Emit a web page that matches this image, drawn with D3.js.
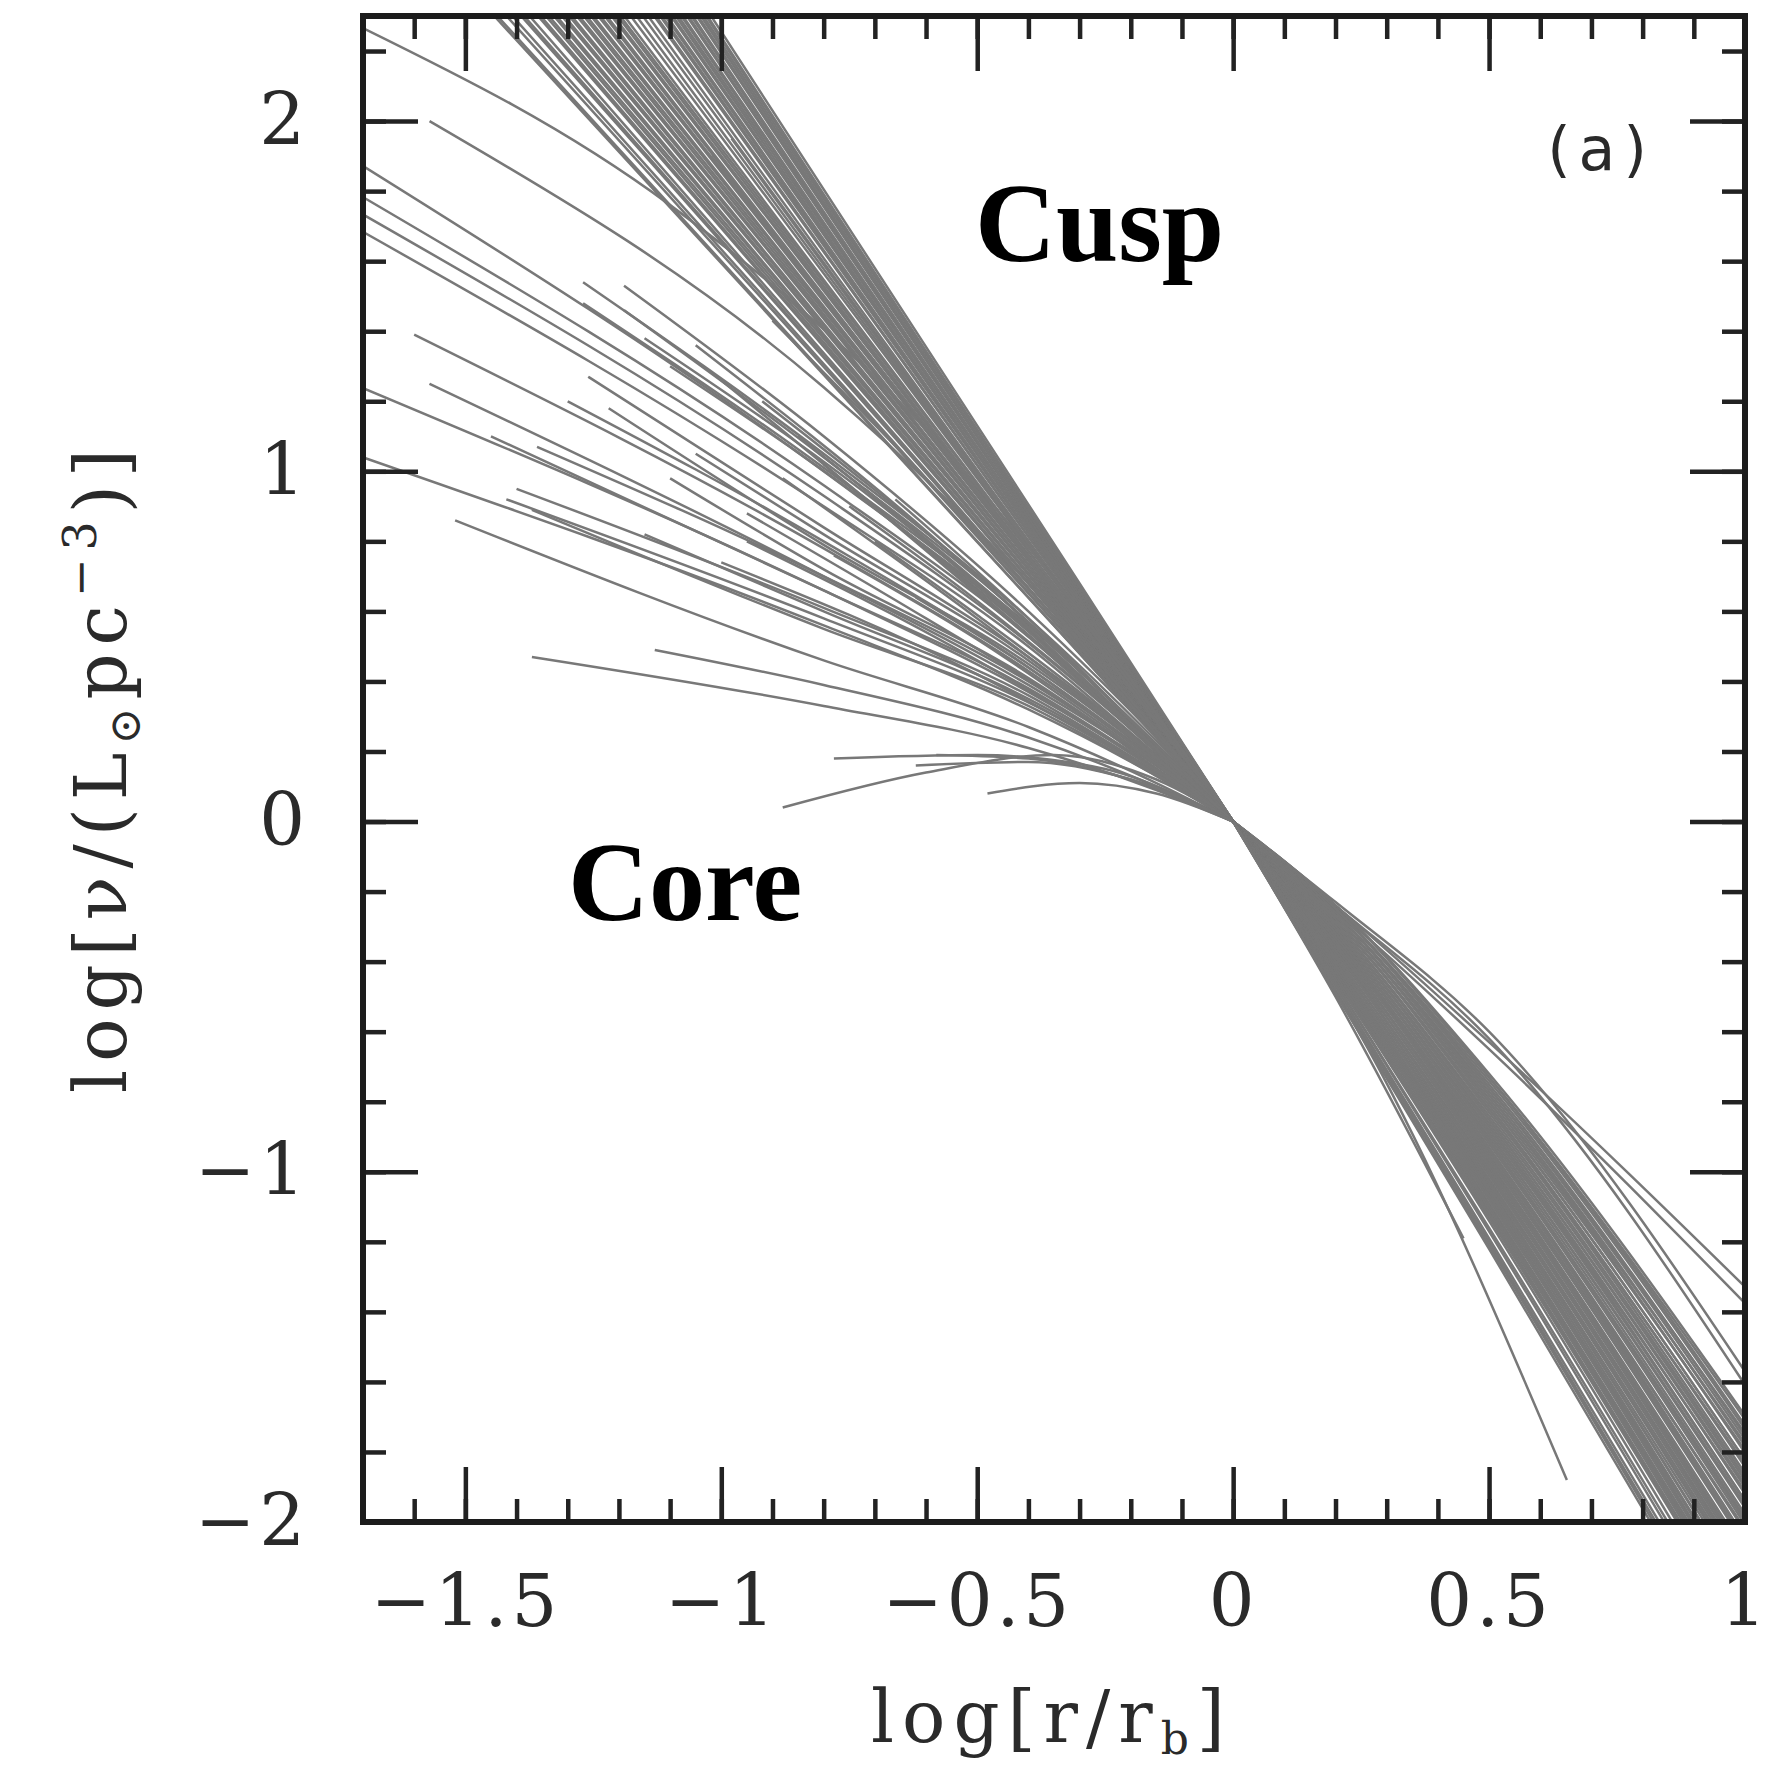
<!DOCTYPE html>
<html>
<head>
<meta charset="utf-8">
<script src="https://cdn.jsdelivr.net/npm/d3@7"></script>
<style>
  body { margin: 0; background: #fff; }
  .tick line { stroke: #222; stroke-width: 4.5; }
  .tick text { font-family: "DejaVu Serif", serif; font-size: 72px; fill: #2a2a2a; letter-spacing: 4px; }
  .profile { fill: none; stroke: #787878; stroke-width: 2.5; }
</style>
</head>
<body>
<div id="chart"></div>
<script>
// tick values and labels
var xMajorTicks = [-1.5, -1, -0.5, 0, 0.5, 1];
var xTickLabels = ["\u22121.5", "\u22121", "\u22120.5", "0", "0.5", "1"];
var yMajorTicks = [-2, -1, 0, 1, 2];
var yTickLabels = ["\u22122", "\u22121", "0", "1", "2"];

// inner profiles (x <= 0), steep power-law galaxies : [log r/rb, log nu]
var cuspProfiles = [
  [[-1.5, 2.39], [-0.3, 0.48], [0, 0]],
  [[-1.5, 2.40], [-0.3, 0.48], [0, 0]],
  [[-1.5, 2.43], [-0.3, 0.49], [0, 0]],
  [[-1.5, 2.45], [-0.3, 0.49], [0, 0]],
  [[-1.5, 2.48], [-0.3, 0.50], [0, 0]],
  [[-1.5, 2.49], [-0.3, 0.50], [0, 0]],
  [[-1.5, 2.51], [-0.3, 0.50], [0, 0]],
  [[-1.5, 2.54], [-0.3, 0.51], [0, 0]],
  [[-1.5, 2.55], [-0.3, 0.51], [0, 0]],
  [[-1.5, 2.57], [-0.3, 0.51], [0, 0]],
  [[-1.5, 2.58], [-0.3, 0.52], [0, 0]],
  [[-1.5, 2.60], [-0.3, 0.52], [0, 0]],
  [[-1.5, 2.61], [-0.3, 0.52], [0, 0]],
  [[-1.5, 2.63], [-0.3, 0.53], [0, 0]],
  [[-1.5, 2.64], [-0.3, 0.53], [0, 0]],
  [[-1.5, 2.66], [-0.3, 0.53], [0, 0]],
  [[-1.5, 2.67], [-0.3, 0.53], [0, 0]],
  [[-1.5, 2.69], [-0.3, 0.54], [0, 0]],
  [[-1.5, 2.70], [-0.3, 0.54], [0, 0]],
  [[-1.5, 2.72], [-0.3, 0.54], [0, 0]],
  [[-1.5, 2.73], [-0.3, 0.55], [0, 0]],
  [[-1.5, 2.75], [-0.3, 0.55], [0, 0]],
  [[-1.5, 2.76], [-0.3, 0.55], [0, 0]],
  [[-1.5, 2.78], [-0.3, 0.56], [0, 0]],
  [[-1.5, 2.79], [-0.3, 0.56], [0, 0]],
  [[-1.5, 2.81], [-0.3, 0.56], [0, 0]],
  [[-1.5, 2.82], [-0.3, 0.56], [0, 0]],
  [[-1.5, 2.84], [-0.3, 0.57], [0, 0]],
  [[-1.5, 2.85], [-0.3, 0.57], [0, 0]],
  [[-1.5, 2.87], [-0.3, 0.57], [0, 0]],
  [[-1.5, 2.88], [-0.3, 0.58], [0, 0]],
  [[-1.5, 2.90], [-0.3, 0.58], [0, 0]],
  [[-1.5, 2.93], [-0.3, 0.59], [0, 0]],
  [[-1.5, 2.96], [-0.3, 0.59], [0, 0]],
  [[-1.5, 2.99], [-0.3, 0.60], [0, 0]],
  [[-1.5, 3.02], [-0.3, 0.60], [0, 0]],
  [[-1.5, 3.05], [-0.3, 0.61], [0, 0]],
  [[-1.5, 3.06], [-0.3, 0.61], [0, 0]],
  [[-1.5, 3.08], [-0.3, 0.62], [0, 0]],
  [[-1.5, 3.09], [-0.3, 0.62], [0, 0]],
  [[-1.5, 3.11], [-0.3, 0.62], [0, 0]],
  [[-1.5, 3.12], [-0.3, 0.62], [0, 0]],
  [[-1.5, 3.14], [-0.3, 0.63], [0, 0]],
  [[-1.5, 3.15], [-0.3, 0.63], [0, 0]],
  [[-1.5, 3.17], [-0.3, 0.63], [0, 0]],
  [[-1.5, 3.18], [-0.3, 0.64], [0, 0]],
  [[-1.5, 3.20], [-0.3, 0.64], [0, 0]],
  [[-1.5, 3.21], [-0.3, 0.64], [0, 0]],
  [[-1.5, 3.23], [-0.3, 0.65], [0, 0]],
  [[-1.5, 3.24], [-0.3, 0.65], [0, 0]],
  [[-1.5, 3.26], [-0.3, 0.65], [0, 0]],
  [[-1.5, 3.27], [-0.3, 0.65], [0, 0]],
  [[-1.5, 3.29], [-0.3, 0.66], [0, 0]],
  [[-1.5, 3.30], [-0.3, 0.66], [0, 0]],
  [[-1.5, 3.32], [-0.3, 0.66], [0, 0]],
  [[-1.5, 3.33], [-0.3, 0.67], [0, 0]],
  [[-1.5, 3.35], [-0.3, 0.67], [0, 0]],
  [[-1.5, 3.36], [-0.3, 0.67], [0, 0]],
  [[-1.5, 3.38], [-0.3, 0.68], [0, 0]],
  [[-0.98, 1.95], [-0.3, 0.59], [0, 0]],
  [[-1.02, 1.90], [-0.3, 0.57], [0, 0]]
];

// inner profiles of the intermediate galaxies
var transitionProfiles = [
  [[-1.72, 2.28], [-1.1, 1.76], [-0.6, 1.12], [-0.3, 0.60], [0, 0]],
  [[-1.57, 2.00], [-0.8, 1.24], [-0.4, 0.68], [-0.15, 0.26], [0, 0]],
  [[-1.72, 1.89], [-0.8, 1.00], [-0.4, 0.55], [-0.15, 0.21], [0, 0]],
  [[-1.72, 1.80], [-0.8, 0.96], [-0.4, 0.53], [-0.15, 0.21], [0, 0]],
  [[-1.72, 1.75], [-0.8, 0.93], [-0.4, 0.51], [-0.15, 0.20], [0, 0]],
  [[-1.72, 1.70], [-0.8, 0.90], [-0.4, 0.50], [-0.15, 0.19], [0, 0]],
  [[-1.27, 1.54], [-0.8, 1.05], [-0.4, 0.58], [-0.15, 0.23], [0, 0]],
  [[-1.27, 1.48], [-0.8, 1.01], [-0.4, 0.56], [-0.15, 0.22], [0, 0]],
  [[-1.19, 1.53], [-0.8, 1.10], [-0.4, 0.60], [-0.15, 0.24], [0, 0]],
  [[-1.19, 1.46], [-0.8, 1.04], [-0.4, 0.57], [-0.15, 0.22], [0, 0]],
  [[-0.90, 1.43], [-0.6, 0.98], [-0.3, 0.50], [-0.12, 0.20], [0, 0]],
  [[-1.60, 1.39], [-0.8, 0.78], [-0.4, 0.43], [-0.15, 0.17], [0, 0]],
  [[-1.57, 1.25], [-0.8, 0.70], [-0.4, 0.39], [-0.15, 0.16], [0, 0]],
  [[-1.72, 1.25], [-0.8, 0.66], [-0.4, 0.37], [-0.15, 0.15], [0, 0]],
  [[-1.72, 1.05], [-0.8, 0.56], [-0.4, 0.32], [-0.15, 0.13], [0, 0]],
  [[-1.36, 1.07], [-0.8, 0.70], [-0.4, 0.40], [-0.15, 0.16], [0, 0]],
  [[-1.42, 0.92], [-0.8, 0.58], [-0.4, 0.34], [-0.15, 0.14], [0, 0]],
  [[-1.40, 0.95], [-0.8, 0.61], [-0.4, 0.36], [-0.15, 0.14], [0, 0]],
  [[-1.37, 0.89], [-0.8, 0.55], [-0.4, 0.33], [-0.15, 0.13], [0, 0]],
  [[-1.52, 0.86], [-0.8, 0.46], [-0.4, 0.27], [-0.15, 0.11], [0, 0]],
  [[-1.26, 1.27], [-0.8, 0.84], [-0.4, 0.47], [-0.15, 0.19], [0, 0]],
  [[-1.22, 1.18], [-0.8, 0.79], [-0.4, 0.45], [-0.15, 0.18], [0, 0]],
  [[-1.05, 1.05], [-0.8, 0.82], [-0.4, 0.46], [-0.15, 0.18], [0, 0]],
  [[-1.00, 1.26], [-0.7, 0.90], [-0.35, 0.48], [-0.15, 0.21], [0, 0]],
  [[-0.95, 0.88], [-0.6, 0.58], [-0.3, 0.31], [-0.12, 0.12], [0, 0]],
  [[-1.10, 0.98], [-0.8, 0.72], [-0.4, 0.41], [-0.15, 0.16], [0, 0]],
  [[-1.15, 0.82], [-0.8, 0.60], [-0.4, 0.35], [-0.15, 0.14], [0, 0]],
  [[-0.75, 0.90], [-0.5, 0.63], [-0.25, 0.33], [-0.1, 0.13], [0, 0]],
  [[-0.70, 0.80], [-0.5, 0.59], [-0.25, 0.31], [-0.1, 0.12], [0, 0]],
  [[-0.62, 0.64], [-0.4, 0.44], [-0.2, 0.23], [-0.1, 0.12], [0, 0]],
  [[-1.30, 1.20], [-0.8, 0.80], [-0.4, 0.44], [-0.15, 0.17], [0, 0]],
  [[-1.45, 1.10], [-0.8, 0.66], [-0.4, 0.38], [-0.15, 0.15], [0, 0]],
  [[-0.85, 1.10], [-0.5, 0.68], [-0.25, 0.35], [0, 0]],
  [[-0.80, 1.02], [-0.5, 0.65], [-0.25, 0.34], [0, 0]],
  [[-0.88, 0.98], [-0.5, 0.58], [-0.25, 0.30], [0, 0]],
  [[-0.72, 0.95], [-0.45, 0.62], [-0.2, 0.28], [0, 0]],
  [[-0.92, 1.20], [-0.5, 0.70], [-0.25, 0.36], [0, 0]],
  [[-0.66, 0.92], [-0.4, 0.58], [-0.2, 0.29], [0, 0]],
  [[-0.78, 0.76], [-0.5, 0.52], [-0.25, 0.27], [0, 0]],
  [[-0.95, 0.80], [-0.5, 0.46], [-0.25, 0.24], [0, 0]],
  [[-1.00, 0.74], [-0.5, 0.42], [-0.25, 0.22], [0, 0]],
  [[-0.60, 0.78], [-0.35, 0.47], [-0.15, 0.21], [0, 0]],
  [[-1.10, 1.30], [-0.6, 0.78], [-0.3, 0.40], [0, 0]],
  [[-1.05, 1.36], [-0.6, 0.83], [-0.3, 0.43], [0, 0]],
  [[-1.15, 1.38], [-0.6, 0.80], [-0.3, 0.41], [0, 0]]
];

// inner profiles of the core galaxies
var coreProfiles = [
  [[-1.37, 0.47], [-0.8, 0.33], [-0.4, 0.21], [-0.15, 0.09], [0, 0]],
  [[-1.13, 0.49], [-0.8, 0.39], [-0.4, 0.24], [-0.15, 0.10], [0, 0]],
  [[-0.88, 0.04], [-0.6, 0.14], [-0.35, 0.19], [-0.15, 0.12], [0, 0]],
  [[-0.78, 0.18], [-0.5, 0.19], [-0.25, 0.15], [-0.1, 0.07], [0, 0]],
  [[-0.48, 0.08], [-0.3, 0.11], [-0.15, 0.08], [0, 0]],
  [[-0.62, 0.16], [-0.4, 0.17], [-0.2, 0.12], [0, 0]],
  [[-0.58, 0.19], [-0.4, 0.18], [-0.2, 0.12], [0, 0]]
];

// outer profiles (x >= 0)
var outerProfiles = [
  [[0, 0], [0.2, -0.24], [0.5, -0.63], [1.05, -1.40]],
  [[0, 0], [0.2, -0.25], [0.5, -0.65], [1.05, -1.45]],
  [[0, 0], [0.2, -0.23], [0.5, -0.60], [1.05, -1.68]],
  [[0, 0], [0.2, -0.24], [0.5, -0.62], [1.05, -1.72]],
  [[0, 0], [0.15, -0.36], [0.29, -0.72], [0.652, -1.88]],
  [[0, 0], [0.2, -0.50], [0.45, -1.19]],
  [[0, 0], [0.2, -0.24], [0.5, -0.72], [1.05, -1.80]],
  [[0, 0], [0.2, -0.24], [0.5, -0.73], [1.05, -1.83]],
  [[0, 0], [0.2, -0.24], [0.5, -0.73], [1.05, -1.81]],
  [[0, 0], [0.2, -0.25], [0.5, -0.74], [1.05, -1.84]],
  [[0, 0], [0.2, -0.25], [0.5, -0.75], [1.05, -1.86]],
  [[0, 0], [0.2, -0.25], [0.5, -0.76], [1.05, -1.85]],
  [[0, 0], [0.2, -0.25], [0.5, -0.76], [1.05, -1.87]],
  [[0, 0], [0.2, -0.26], [0.5, -0.77], [1.05, -1.89]],
  [[0, 0], [0.2, -0.26], [0.5, -0.78], [1.05, -1.88]],
  [[0, 0], [0.2, -0.26], [0.5, -0.78], [1.05, -1.91]],
  [[0, 0], [0.2, -0.26], [0.5, -0.79], [1.05, -1.90]],
  [[0, 0], [0.2, -0.27], [0.5, -0.80], [1.05, -1.93]],
  [[0, 0], [0.2, -0.27], [0.5, -0.80], [1.05, -1.93]],
  [[0, 0], [0.2, -0.27], [0.5, -0.81], [1.05, -1.95]],
  [[0, 0], [0.2, -0.28], [0.5, -0.82], [1.05, -1.94]],
  [[0, 0], [0.2, -0.28], [0.5, -0.82], [1.05, -1.97]],
  [[0, 0], [0.2, -0.28], [0.5, -0.83], [1.05, -1.98]],
  [[0, 0], [0.2, -0.29], [0.5, -0.84], [1.05, -1.99]],
  [[0, 0], [0.2, -0.29], [0.5, -0.85], [1.05, -2.01]],
  [[0, 0], [0.2, -0.29], [0.5, -0.85], [1.05, -2.00]],
  [[0, 0], [0.2, -0.30], [0.5, -0.86], [1.05, -2.03]],
  [[0, 0], [0.2, -0.30], [0.5, -0.87], [1.05, -2.02]],
  [[0, 0], [0.2, -0.30], [0.5, -0.87], [1.05, -2.05]],
  [[0, 0], [0.2, -0.31], [0.5, -0.88], [1.05, -2.05]],
  [[0, 0], [0.2, -0.31], [0.5, -0.89], [1.05, -2.07]],
  [[0, 0], [0.2, -0.31], [0.5, -0.89], [1.05, -2.06]],
  [[0, 0], [0.2, -0.32], [0.5, -0.90], [1.05, -2.09]],
  [[0, 0], [0.2, -0.32], [0.5, -0.91], [1.05, -2.10]],
  [[0, 0], [0.2, -0.32], [0.5, -0.91], [1.05, -2.11]],
  [[0, 0], [0.2, -0.33], [0.5, -0.92], [1.05, -2.12]],
  [[0, 0], [0.2, -0.33], [0.5, -0.93], [1.05, -2.14]],
  [[0, 0], [0.2, -0.33], [0.5, -0.94], [1.05, -2.13]],
  [[0, 0], [0.2, -0.34], [0.5, -0.94], [1.05, -2.16]],
  [[0, 0], [0.2, -0.34], [0.5, -0.95], [1.05, -2.16]],
  [[0, 0], [0.2, -0.35], [0.5, -0.96], [1.05, -2.18]],
  [[0, 0], [0.2, -0.35], [0.5, -0.96], [1.05, -2.17]],
  [[0, 0], [0.2, -0.35], [0.5, -0.97], [1.05, -2.20]],
  [[0, 0], [0.2, -0.36], [0.5, -0.98], [1.05, -2.21]],
  [[0, 0], [0.2, -0.36], [0.5, -0.98], [1.05, -2.22]],
  [[0, 0], [0.2, -0.37], [0.5, -0.99], [1.05, -2.23]],
  [[0, 0], [0.2, -0.37], [0.5, -1.00], [1.05, -2.24]],
  [[0, 0], [0.2, -0.37], [0.5, -1.00], [1.05, -2.25]],
  [[0, 0], [0.2, -0.38], [0.5, -1.01], [1.05, -2.26]],
  [[0, 0], [0.2, -0.38], [0.5, -1.02], [1.05, -2.27]],
  [[0, 0], [0.2, -0.39], [0.5, -1.03], [1.05, -2.29]],
  [[0, 0], [0.2, -0.39], [0.5, -1.03], [1.05, -2.28]],
  [[0, 0], [0.2, -0.39], [0.5, -1.04], [1.05, -2.30]],
  [[0, 0], [0.2, -0.40], [0.5, -1.05], [1.05, -2.32]],
  [[0, 0], [0.2, -0.40], [0.5, -1.05], [1.05, -2.32]],
  [[0, 0], [0.2, -0.41], [0.5, -1.06], [1.05, -2.34]],
  [[0, 0], [0.2, -0.41], [0.5, -1.07], [1.05, -2.34]],
  [[0, 0], [0.2, -0.41], [0.5, -1.07], [1.05, -2.36]],
  [[0, 0], [0.2, -0.42], [0.5, -1.08], [1.05, -2.37]],
  [[0, 0], [0.2, -0.42], [0.5, -1.09], [1.05, -2.38]],
  [[0, 0], [0.2, -0.43], [0.5, -1.10], [1.05, -2.39]],
  [[0, 0], [0.2, -0.43], [0.5, -1.10], [1.05, -2.40]],
  [[0, 0], [0.2, -0.44], [0.5, -1.11], [1.05, -2.41]],
  [[0, 0], [0.2, -0.44], [0.5, -1.12], [1.05, -2.42]],
  [[0, 0], [0.2, -0.44], [0.5, -1.12], [1.05, -2.44]],
  [[0, 0], [0.2, -0.45], [0.5, -1.13], [1.05, -2.44]],
  [[0, 0], [0.2, -0.45], [0.5, -1.14], [1.05, -2.47]],
  [[0, 0], [0.2, -0.46], [0.5, -1.16], [1.05, -2.49]],
  [[0, 0], [0.2, -0.46], [0.5, -1.17], [1.05, -2.51]],
  [[0, 0], [0.2, -0.47], [0.5, -1.19], [1.05, -2.53]],
  [[0, 0], [0.2, -0.48], [0.5, -1.20], [1.05, -2.55]],
  [[0, 0], [0.2, -0.49], [0.5, -1.21], [1.05, -2.57]],
  [[0, 0], [0.2, -0.49], [0.5, -1.22], [1.05, -2.58]]
];

function draw() {
  "use strict";

  var width = 1792,
    height = 1769;

  // plot frame in pixels
  var left = 363, right = 1745, top = 16, bottom = 1522;

  var x = d3.scaleLinear().domain([-1.7, 1]).range([left, right]);
  var y = d3.scaleLinear().domain([-2, 2.3]).range([bottom, top]);

  var xMinorTicks = d3.range(-17, 11).map(function(i) { return i / 10; });
  var yMinorTicks = d3.range(-10, 12).map(function(i) { return i / 5; });

  var svg = d3.select("#chart").append("svg")
    .attr("width", width)
    .attr("height", height)
    .style("background", "#fff");

  svg.append("clipPath")
    .attr("id", "plotArea")
    .append("rect")
    .attr("x", left)
    .attr("y", top)
    .attr("width", right - left)
    .attr("height", bottom - top);

  // all the normalised density profiles
  var line = d3.line()
    .x(function(d) { return x(d[0]); })
    .y(function(d) { return y(d[1]); })
    .curve(d3.curveMonotoneX);

  var allProfiles = cuspProfiles.concat(transitionProfiles, coreProfiles, outerProfiles);

  svg.append("g")
    .attr("clip-path", "url(#plotArea)")
    .selectAll("path")
    .data(allProfiles)
    .enter()
    .append("path")
    .attr("class", "profile")
    .attr("d", line);

  // ticks on all four sides, pointing inward
  function ticks(axis, minor, major, transform, labels) {
    svg.append("g")
      .attr("transform", transform)
      .call(axis.tickValues(minor).tickSize(-23).tickFormat(""))
      .call(function(g) { g.select(".domain").remove(); });
    svg.append("g")
      .attr("transform", transform)
      .call(axis.tickValues(major).tickSize(-55).tickFormat(function(d, i) {
        return labels ? labels[i] : "";
      }))
      .call(function(g) { g.select(".domain").remove(); });
  }

  ticks(d3.axisBottom(x).tickPadding(53), xMinorTicks, xMajorTicks, "translate(0," + bottom + ")", xTickLabels);
  ticks(d3.axisTop(x), xMinorTicks, xMajorTicks, "translate(0," + top + ")", null);
  ticks(d3.axisLeft(y).tickPadding(54), yMinorTicks, yMajorTicks, "translate(" + left + ",0)", yTickLabels);
  ticks(d3.axisRight(y), yMinorTicks, yMajorTicks, "translate(" + right + ",0)", null);

  // frame
  svg.append("rect")
    .attr("x", left)
    .attr("y", top)
    .attr("width", right - left)
    .attr("height", bottom - top)
    .attr("fill", "none")
    .attr("stroke", "#1c1c1c")
    .attr("stroke-width", 6);

  // axis titles
  var xTitle = svg.append("text")
    .attr("x", 1052)
    .attr("y", 1742)
    .attr("text-anchor", "middle")
    .style("font-family", "'DejaVu Serif', serif")
    .style("font-size", "72px")
    .style("letter-spacing", "8px")
    .attr("fill", "#2a2a2a");
  xTitle.append("tspan").text("log[r/r");
  xTitle.append("tspan").attr("font-size", "44px").attr("dy", 12).text("b");
  xTitle.append("tspan").attr("dy", -12).text("]");

  var yTitle = svg.append("text")
    .attr("transform", "translate(126,767) rotate(-90)")
    .attr("text-anchor", "middle")
    .style("font-family", "'DejaVu Serif', serif")
    .style("font-size", "72px")
    .style("letter-spacing", "8px")
    .attr("fill", "#2a2a2a");
  yTitle.append("tspan").text("log[\u03bd/(L");
  yTitle.append("tspan").attr("font-size", "44px").attr("dy", 14).text("\u2299");
  yTitle.append("tspan").attr("dy", -14).text("pc");
  yTitle.append("tspan").attr("font-size", "46px").attr("dy", -30).text("\u22123");
  yTitle.append("tspan").attr("dy", 30).text(")]");

  // panel tag and region labels
  svg.append("text")
    .attr("x", 1601)
    .attr("y", 170)
    .attr("text-anchor", "middle")
    .style("font-family", "'DejaVu Sans', sans-serif")
    .style("font-size", "60px")
    .style("letter-spacing", "8px")
    .attr("fill", "#2a2a2a")
    .text("(a)");

  svg.append("text")
    .attr("x", 975)
    .attr("y", 261)
    .style("font-family", "'Liberation Serif', serif")
    .style("font-weight", "bold")
    .style("font-size", "112px")
    .attr("fill", "#000")
    .text("Cusp");

  svg.append("text")
    .attr("x", 568)
    .attr("y", 920)
    .style("font-family", "'Liberation Serif', serif")
    .style("font-weight", "bold")
    .style("font-size", "112px")
    .attr("fill", "#000")
    .text("Core");
}

draw();
</script>
</body>
</html>
